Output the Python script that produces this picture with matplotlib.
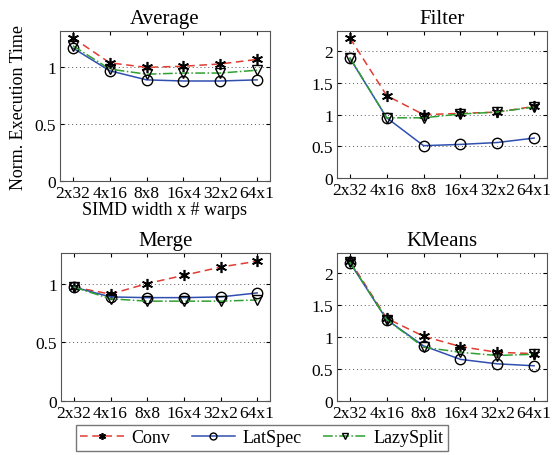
import matplotlib.pyplot as plt
import numpy as np

plt.rcParams['font.family'] = ['Liberation Serif', 'DejaVu Serif']

configs = ['2x32', '4x16', '8x8', '16x4', '32x2', '64x1']

avg_conv = [1.26, 1.04, 1.00, 1.01, 1.03, 1.07]
avg_lat = [1.17, 0.97, 0.89, 0.88, 0.88, 0.89]
avg_lazy = [1.19, 0.985, 0.94, 0.95, 0.95, 0.975]

filt_conv = [2.21, 1.30, 1.00, 1.02, 1.04, 1.13]
filt_lat = [1.89, 0.95, 0.51, 0.53, 0.56, 0.63]
filt_lazy = [1.90, 0.95, 0.95, 1.01, 1.04, 1.12]

merge_conv = [0.97, 0.91, 1.00, 1.07, 1.14, 1.19]
merge_lat = [0.97, 0.886, 0.88, 0.88, 0.886, 0.92]
merge_lazy = [0.97, 0.87, 0.85, 0.85, 0.85, 0.86]

km_conv = [2.19, 1.29, 1.01, 0.85, 0.76, 0.74]
km_lat = [2.16, 1.27, 0.86, 0.65, 0.58, 0.55]
km_lazy = [2.17, 1.27, 0.84, 0.76, 0.71, 0.73]

panels = [
    ('Average', avg_conv, avg_lat, avg_lazy, 1.32, [0, 0.5, 1]),
    ('Filter', filt_conv, filt_lat, filt_lazy, 2.32, [0, 0.5, 1, 1.5, 2]),
    ('Merge', merge_conv, merge_lat, merge_lazy, 1.26, [0, 0.5, 1]),
    ('KMeans', km_conv, km_lat, km_lazy, 2.31, [0, 0.5, 1, 1.5, 2]),
]

# axes boxes in pixels: left, top, right, bottom
W, H = 553, 456
boxes = [(60, 32, 270, 182), (337, 32, 547, 179),
         (61, 254, 270, 402), (337, 254, 547, 402)]

star = (6, 2, 0)

fig = plt.figure(figsize=(W / 100, H / 100), dpi=100)
x = np.arange(len(configs))
handles = None
for (title, conv, lat, lazy, ytop, yt), (l, t, r, b) in zip(panels, boxes):
    ax = fig.add_axes([l / W, 1 - b / H, (r - l) / W, (b - t) / H])
    h1, = ax.plot(x, conv, color='#e03c31', ls=(0, (5, 3)), lw=1.1,
                  marker=star, ms=8, mew=1.2, mfc='black', mec='black',
                  label='Conv')
    h2, = ax.plot(x, lat, color='#3050b0', ls='-', lw=1.1,
                  marker='o', ms=7.5, mew=1.0, mfc='none', mec='black',
                  label='LatSpec')
    h3, = ax.plot(x, lazy, color='#30a030', ls='-.', lw=1.1,
                  marker='v', ms=7.5, mew=1.0, mfc='none', mec='black',
                  label='LazySplit')
    handles = [h1, h2, h3]
    ax.set_xlim(-0.35, 5.35)
    ax.set_ylim(0, ytop)
    ax.set_yticks(yt)
    ax.set_yticklabels([('%g' % v) for v in yt])
    ax.set_xticks(x)
    ax.set_xticklabels(configs)
    ax.yaxis.grid(True, ls=(0, (1, 3)), color='#555555', lw=0.7)
    ax.tick_params(direction='in', top=True, right=True, labelsize=12.5,
                   length=3)
    ax.tick_params(axis='x', pad=3)
    ax.tick_params(axis='y', pad=3)
    for s in ax.spines.values():
        s.set_color('#555555')
        s.set_linewidth(0.8)
    ax.set_title(title, fontsize=15, pad=6)
    if title == 'Average':
        ax.set_ylabel('Norm. Execution Time', fontsize=13, labelpad=5)
        ax.set_xlabel('SIMD width x # warps', fontsize=13, labelpad=0)

leg = fig.legend(handles=handles, loc='center', ncol=3,
                 bbox_to_anchor=(262 / W, 1 - 439 / H), fontsize=13,
                 frameon=True, fancybox=False, edgecolor='#555555',
                 handlelength=2.4, columnspacing=1.2, borderpad=0.25,
                 handletextpad=0.4)
for lh in leg.legend_handles:
    lh.set_markersize(5)

fig.savefig('out.png', dpi=100)
